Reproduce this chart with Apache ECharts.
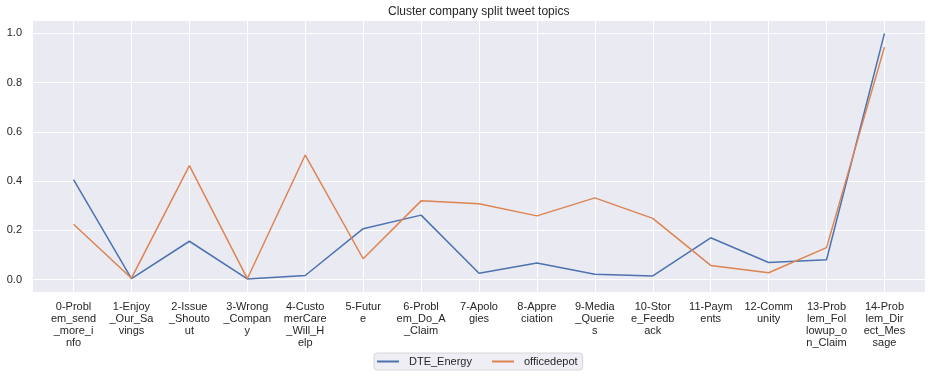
<!DOCTYPE html>
<html>
<head>
<meta charset="utf-8">
<script src="https://cdn.jsdelivr.net/npm/echarts@6/dist/echarts.min.js"></script>
<style>
  html, body { margin: 0; padding: 0; background: #fff; }
  #chart { width: 938px; height: 378px; }
</style>
</head>
<body>
<div id="chart"></div>
<script>
const topics = [
    '0-Problem_send_more_info', '1-Enjoy_Our_Savings', '2-Issue_Shoutout',
    '3-Wrong_Company', '4-CustomerCare_Will_Help', '5-Future',
    '6-Problem_Do_A_Claim', '7-Apologies', '8-Appreciation',
    '9-Media_Queries', '10-Store_Feedback', '11-Payments',
    '12-Community', '13-Problem_Followup_on_Claim', '14-Problem_Direct_Message'
];
const dteEnergy = [0.406, 0.004, 0.156, 0.003, 0.017, 0.207, 0.262, 0.026, 0.068,
    0.022, 0.015, 0.170, 0.070, 0.081, 1.0];
const officedepot = [0.225, 0.006, 0.463, 0.004, 0.506, 0.085, 0.320, 0.308, 0.259,
    0.332, 0.249, 0.058, 0.028, 0.130, 0.944];
const yTicks = [0, 0.2, 0.4, 0.6, 0.8, 1.0];

const chart = echarts.init(document.getElementById('chart'));
const textColor = '#262626';
const fontFamily = '"Liberation Sans", Arial, sans-serif';

// matplotlib wraps the tick labels every 7 chars
function wrapLabel(s) {
    const parts = [];
    for (let i = 0; i < s.length; i += 7) parts.push(s.slice(i, i + 7));
    return parts.join('\n');
}

function toPairs(values) {
    return values.map((v, i) => [i, v]);
}

const xTicks = topics.map((t, i) => i);

const option = {
    animation: false,
    backgroundColor: '#fff',
    textStyle: { fontFamily: fontFamily },
    title: {
        text: 'Cluster company split tweet topics',
        left: 383,
        top: 1,
        textStyle: { color: textColor, fontSize: 12, fontWeight: 'normal', fontFamily: fontFamily }
    },
    grid: {
        left: 33, right: 13, top: 21, bottom: 86,
        show: true,
        backgroundColor: '#eaeaf2',
        borderWidth: 0
    },
    legend: {
        left: 374,
        top: 353,
        icon: 'rect',
        itemWidth: 22,
        itemHeight: 2,
        itemGap: 20,
        padding: [3, 5, 3, 3],
        backgroundColor: '#eeeef4',
        borderColor: '#d6d6d6',
        borderWidth: 1,
        borderRadius: 3,
        textStyle: { color: textColor, fontSize: 11, fontFamily: fontFamily, padding: [0, 0, 0, 5] },
        data: ['DTE_Energy', 'officedepot']
    },
    xAxis: {
        type: 'value',
        min: -0.7,
        max: 14.7,
        axisLine: { show: false },
        axisTick: { show: false, customValues: xTicks },
        splitLine: { show: true, lineStyle: { color: '#fff', width: 1 } },
        axisLabel: {
            customValues: xTicks,
            color: textColor,
            fontSize: 11,
            lineHeight: 12,
            margin: 9,
            align: 'center',
            verticalAlign: 'top',
            formatter: v => wrapLabel(topics[Math.round(v)])
        }
    },
    yAxis: {
        type: 'value',
        min: -0.05,
        max: 1.05,
        axisLine: { show: false },
        axisTick: { show: false, customValues: yTicks },
        splitLine: { show: true, lineStyle: { color: '#fff', width: 1 } },
        axisLabel: {
            customValues: yTicks,
            color: textColor,
            fontSize: 11,
            margin: 11,
            formatter: v => v.toFixed(1)
        }
    },
    series: [
        {
            name: 'DTE_Energy',
            type: 'line',
            symbol: 'none',
            data: toPairs(dteEnergy),
            lineStyle: { color: '#4c72b0', width: 1.5 },
            itemStyle: { color: '#4c72b0' }
        },
        {
            name: 'officedepot',
            type: 'line',
            symbol: 'none',
            data: toPairs(officedepot),
            lineStyle: { color: '#dd8452', width: 1.5 },
            itemStyle: { color: '#dd8452' }
        }
    ]
};

chart.setOption(option);
</script>
</body>
</html>
